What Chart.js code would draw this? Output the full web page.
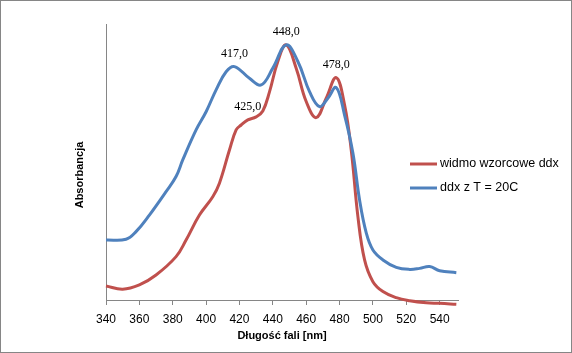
<!DOCTYPE html>
<html>
<head>
<meta charset="utf-8">
<script src="https://cdn.jsdelivr.net/npm/chart.js@4.4.1/dist/chart.umd.min.js"></script>
<style>
    html, body { margin: 0; padding: 0; background: #fff; }
    #wykres-box { width: 572px; height: 353px; }
</style>
</head>
<body>
<div id="wykres-box"><canvas id="wykres"></canvas></div>
<script>
// widmo wzorcowe ddx (czerwone)
const dlugosciWzorzec = [340, 350, 360, 370, 382, 388, 396, 404, 408, 414, 418, 421, 425, 430, 434, 438, 443, 448, 454, 460, 466, 472, 478, 483, 487, 491, 495, 500, 506, 514, 522, 532, 540, 550];
const absWzorzec = [0.055, 0.042, 0.059, 0.098, 0.170, 0.235, 0.333, 0.405, 0.458, 0.588, 0.667, 0.686, 0.706, 0.718, 0.741, 0.816, 0.935, 1.000, 0.909, 0.778, 0.715, 0.791, 0.872, 0.765, 0.588, 0.327, 0.157, 0.072, 0.033, 0.009, -0.003, -0.011, -0.013, -0.017];

// ddx z T = 20C (niebieskie)
const dlugosciT20 = [340, 352, 358, 366, 376, 382, 386, 394, 400, 406, 412, 417, 426, 433, 440, 448, 455, 462, 468, 473, 478, 483, 488, 492, 496, 500, 506, 514, 522, 528, 534, 540, 550];
const absT20 = [0.235, 0.238, 0.268, 0.333, 0.425, 0.484, 0.549, 0.667, 0.738, 0.824, 0.895, 0.915, 0.869, 0.843, 0.909, 1.000, 0.935, 0.817, 0.758, 0.791, 0.833, 0.725, 0.576, 0.392, 0.263, 0.196, 0.157, 0.128, 0.120, 0.124, 0.131, 0.115, 0.107];

const etykietyX = ['340', '360', '380', '400', '420', '440', '460', '480', '500', '520', '540'];
const nazwySerii = ['widmo wzorcowe ddx', 'ddx z T = 20C'];
const kolory = ['#C0504D', '#4F81BD'];

// piki opisane na wykresie: [seria, długość fali]
const piki = [[1, 417], [0, 425], [0, 448], [0, 478]];

const szary = '#868686';

const dodatki = {
    id: 'dodatki',
    beforeDraw(chart) {
        const c = chart.ctx;
        c.save();
        c.fillStyle = '#fff';
        c.fillRect(0, 0, chart.width, chart.height);
        c.strokeStyle = szary;
        c.lineWidth = 1;
        c.strokeRect(0.5, 0.5, chart.width - 1, chart.height - 1);
        c.restore();
    },
    afterDatasetsDraw(chart) {
        const c = chart.ctx;
        c.save();
        c.font = '12px "Liberation Serif", serif';
        c.fillStyle = '#000';
        c.textAlign = 'center';
        c.textBaseline = 'middle';
        piki.forEach(([seria, nm]) => {
            const x = chart.scales.x.getPixelForValue(nm);
            const lista = seria === 0 ? dlugosciWzorzec : dlugosciT20;
            const wart = seria === 0 ? absWzorzec : absT20;
            const y = chart.scales.y.getPixelForValue(wart[lista.indexOf(nm)]);
            c.fillText(nm.toFixed(1).replace('.', ','), x, y - 13);
        });
        c.restore();
    },
    afterDraw(chart) {
        const c = chart.ctx;
        c.save();
        // legenda
        c.font = '12.5px "Liberation Sans", sans-serif';
        c.textBaseline = 'middle';
        c.textAlign = 'left';
        nazwySerii.forEach((nazwa, i) => {
            const y = 164 + i * 24;
            c.strokeStyle = kolory[i];
            c.lineWidth = 3;
            c.beginPath();
            c.moveTo(410, y);
            c.lineTo(437, y);
            c.stroke();
            c.fillStyle = '#000';
            c.fillText(nazwa, 440, y);
        });
        // tytuł osi Y
        c.translate(80, 175);
        c.rotate(-Math.PI / 2);
        c.font = 'bold 11px "Liberation Sans", sans-serif';
        c.textAlign = 'center';
        c.fillText('Absorbancja', 0, 0);
        c.restore();
    }
};

const ctx = document.getElementById('wykres').getContext('2d');

new Chart(ctx, {
    type: 'line',
    data: {
        datasets: [
            {
                label: nazwySerii[0],
                data: dlugosciWzorzec.map((x, i) => ({ x: x, y: absWzorzec[i] })),
                borderColor: kolory[0],
                order: 2
            },
            {
                label: nazwySerii[1],
                data: dlugosciT20.map((x, i) => ({ x: x, y: absT20[i] })),
                borderColor: kolory[1],
                order: 1
            }
        ]
    },
    options: {
        responsive: true,
        maintainAspectRatio: false,
        animation: false,
        layout: { padding: { top: 24, right: 114, bottom: 0, left: 0 } },
        elements: {
            line: { borderWidth: 3, tension: 0.4, fill: false },
            point: { radius: 0 }
        },
        datasets: { line: { clip: false } },
        plugins: {
            legend: { display: false },
            tooltip: { enabled: false }
        },
        scales: {
            x: {
                type: 'linear',
                min: 340,
                max: 551,
                afterBuildTicks: (scale) => {
                    scale.ticks = etykietyX.map(t => ({ value: Number(t) }));
                },
                afterFit: (scale) => { scale.height = 53; },
                ticks: {
                    autoSkip: false,
                    maxRotation: 0,
                    padding: 7,
                    color: '#000',
                    font: { family: '"Liberation Sans", sans-serif', size: 12 },
                    callback: (v) => etykietyX[etykietyX.indexOf(String(v))]
                },
                grid: { drawOnChartArea: false, drawTicks: true, tickLength: 5, color: szary },
                border: { color: szary, width: 1 },
                title: {
                    display: true,
                    text: 'Długość fali [nm]',
                    color: '#000',
                    font: { family: '"Liberation Sans", sans-serif', size: 11, weight: 'bold' },
                    padding: { top: 4, bottom: 10 }
                }
            },
            y: {
                min: 0,
                max: 1.082,
                afterFit: (scale) => { scale.width = 106; },
                ticks: { display: false },
                grid: { display: false },
                border: { color: szary, width: 1 }
            }
        }
    },
    plugins: [dodatki]
});
</script>
</body>
</html>
